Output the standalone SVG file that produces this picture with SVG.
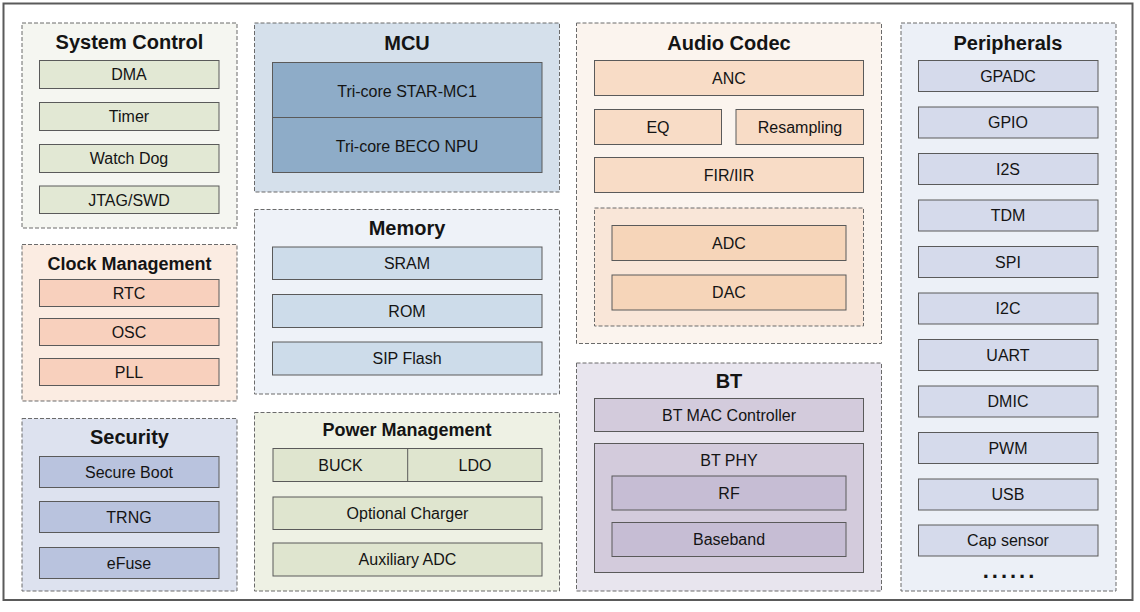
<svg xmlns="http://www.w3.org/2000/svg" width="1140" height="612" viewBox="0 0 1140 612">
<style>
text{font-family:"Liberation Sans",Arial,sans-serif;fill:#141414;text-anchor:middle}
.t{font-size:20px;font-weight:bold}
.t2{font-size:18px;font-weight:bold}
.l{font-size:16px}
.g{stroke:#6b6b6b;stroke-width:1;stroke-dasharray:4 2}
.b{stroke:#5a5a5a;stroke-width:1}
</style>
<rect x="3.5" y="3.5" width="1129" height="596.5" fill="#ffffff" stroke="#5a5a5a" stroke-width="2"/>

<g id="system-control">
<rect class="g" x="22" y="23" width="215" height="205" fill="#f5f6f1"/>
<text class="t" x="129.5" y="48.5">System Control</text>
<rect class="b" x="39.5" y="60.5" width="179.5" height="28" fill="#e2e8d4"/>
<text class="l" x="129" y="80">DMA</text>
<rect class="b" x="39.5" y="102.5" width="179.5" height="28" fill="#e2e8d4"/>
<text class="l" x="129" y="122">Timer</text>
<rect class="b" x="39.5" y="144.5" width="179.5" height="28" fill="#e2e8d4"/>
<text class="l" x="129" y="164">Watch Dog</text>
<rect class="b" x="39.5" y="186" width="179.5" height="27.5" fill="#e2e8d4"/>
<text class="l" x="129" y="205.5">JTAG/SWD</text>
</g>

<g id="clock-management">
<rect class="g" x="22" y="244.5" width="215" height="156.5" fill="#fbece2"/>
<text class="t2" x="129.5" y="269.5">Clock Management</text>
<rect class="b" x="39.5" y="279.5" width="179.5" height="27" fill="#f8d0bd"/>
<text class="l" x="129" y="298.5">RTC</text>
<rect class="b" x="39.5" y="318.5" width="179.5" height="27" fill="#f8d0bd"/>
<text class="l" x="129" y="337.5">OSC</text>
<rect class="b" x="39.5" y="358.5" width="179.5" height="27" fill="#f8d0bd"/>
<text class="l" x="129" y="377.5">PLL</text>
</g>

<g id="security">
<rect class="g" x="22" y="418.5" width="215" height="172.5" fill="#dde2ef"/>
<text class="t" x="129.5" y="443.5">Security</text>
<rect class="b" x="39.5" y="456.5" width="179.5" height="31" fill="#b9c3de"/>
<text class="l" x="129" y="477.5">Secure Boot</text>
<rect class="b" x="39.5" y="501.5" width="179.5" height="31" fill="#b9c3de"/>
<text class="l" x="129" y="522.5">TRNG</text>
<rect class="b" x="39.5" y="547.5" width="179.5" height="31" fill="#b9c3de"/>
<text class="l" x="129" y="568.5">eFuse</text>
</g>

<g id="mcu">
<rect class="g" x="254.5" y="23" width="305" height="169" fill="#d5e0eb"/>
<text class="t" x="407" y="49.5">MCU</text>
<rect class="b" x="272.5" y="62.5" width="269.5" height="110" fill="#8eacc8"/>
<line class="b" x1="272.5" y1="117.5" x2="542" y2="117.5"/>
<text class="l" x="407" y="96.5">Tri-core STAR-MC1</text>
<text class="l" x="407" y="151.5">Tri-core BECO NPU</text>
</g>

<g id="memory">
<rect class="g" x="254.5" y="209.5" width="305" height="184.5" fill="#eef2f8"/>
<text class="t" x="407" y="235">Memory</text>
<rect class="b" x="272.5" y="247" width="269.5" height="32.5" fill="#cddcea"/>
<text class="l" x="407" y="269">SRAM</text>
<rect class="b" x="272.5" y="294.5" width="269.5" height="33" fill="#cddcea"/>
<text class="l" x="407" y="316.5">ROM</text>
<rect class="b" x="272.5" y="342" width="269.5" height="33" fill="#cddcea"/>
<text class="l" x="407" y="364">SIP Flash</text>
</g>

<g id="power-management">
<rect class="g" x="254.5" y="412.5" width="305" height="178.5" fill="#eef1e4"/>
<text class="t2" x="407" y="435.5">Power Management</text>
<rect class="b" x="273" y="448.5" width="269" height="33" fill="#dfe5cf"/>
<line class="b" x1="407.7" y1="448.5" x2="407.7" y2="481.5"/>
<text class="l" x="340.5" y="470.5">BUCK</text>
<text class="l" x="475" y="470.5">LDO</text>
<rect class="b" x="273" y="497" width="269" height="32.5" fill="#dfe5cf"/>
<text class="l" x="407.5" y="519">Optional Charger</text>
<rect class="b" x="273" y="543" width="269" height="33" fill="#dfe5cf"/>
<text class="l" x="407.5" y="565">Auxiliary ADC</text>
</g>

<g id="audio-codec">
<rect class="g" x="576.5" y="23" width="305" height="320.5" fill="#fbf4ee"/>
<text class="t" x="729" y="49.5">Audio Codec</text>
<rect class="b" x="594.5" y="60.5" width="269" height="35" fill="#f8dcc6"/>
<text class="l" x="729" y="83.5">ANC</text>
<rect class="b" x="594.5" y="109.5" width="127" height="35" fill="#f8dcc6"/>
<text class="l" x="658" y="132.5">EQ</text>
<rect class="b" x="736" y="109.5" width="127.5" height="35" fill="#f8dcc6"/>
<text class="l" x="800" y="132.5">Resampling</text>
<rect class="b" x="594.5" y="157.5" width="269" height="35" fill="#f8dcc6"/>
<text class="l" x="729" y="180.5">FIR/IIR</text>
<g id="adc-dac">
<rect class="g" x="594.5" y="208" width="269" height="118" fill="#f9e6d8"/>
<rect class="b" x="612" y="225.5" width="234" height="35" fill="#f6d5b9"/>
<text class="l" x="729" y="248.5">ADC</text>
<rect class="b" x="612" y="275" width="234" height="35" fill="#f6d5b9"/>
<text class="l" x="729" y="298">DAC</text>
</g>
</g>

<g id="bt">
<rect class="g" x="576.5" y="363" width="305" height="228" fill="#e8e5ee"/>
<text class="t" x="729" y="388">BT</text>
<rect class="b" x="594.5" y="398.5" width="269" height="33" fill="#d3cbdc"/>
<text class="l" x="729" y="420.5">BT MAC Controller</text>
<g id="bt-phy">
<rect class="b" x="594.5" y="443.5" width="269" height="129" fill="#d3cbdc"/>
<text class="l" x="729" y="465.5">BT PHY</text>
<rect class="b" x="612" y="476" width="234" height="34" fill="#c6bdd4"/>
<text class="l" x="729" y="498.5">RF</text>
<rect class="b" x="612" y="522.5" width="234" height="34" fill="#c6bdd4"/>
<text class="l" x="729" y="545">Baseband</text>
</g>
</g>

<g id="peripherals">
<rect class="g" x="901" y="23" width="215" height="568" fill="#ecf0f7"/>
<text class="t" x="1008" y="49.5">Peripherals</text>
<g fill="#d5daeb">
<rect class="b" x="918.5" y="60.5" width="179.5" height="31"/>
<rect class="b" x="918.5" y="107" width="179.5" height="31"/>
<rect class="b" x="918.5" y="153.5" width="179.5" height="31"/>
<rect class="b" x="918.5" y="200" width="179.5" height="31"/>
<rect class="b" x="918.5" y="246.5" width="179.5" height="31"/>
<rect class="b" x="918.5" y="293" width="179.5" height="31"/>
<rect class="b" x="918.5" y="339.5" width="179.5" height="31"/>
<rect class="b" x="918.5" y="386" width="179.5" height="31"/>
<rect class="b" x="918.5" y="432.5" width="179.5" height="31"/>
<rect class="b" x="918.5" y="479" width="179.5" height="31"/>
<rect class="b" x="918.5" y="525" width="179.5" height="31"/>
</g>
<text class="l" x="1008" y="81.5">GPADC</text>
<text class="l" x="1008" y="128">GPIO</text>
<text class="l" x="1008" y="174.5">I2S</text>
<text class="l" x="1008" y="221">TDM</text>
<text class="l" x="1008" y="267.5">SPI</text>
<text class="l" x="1008" y="314">I2C</text>
<text class="l" x="1008" y="360.5">UART</text>
<text class="l" x="1008" y="407">DMIC</text>
<text class="l" x="1008" y="453.5">PWM</text>
<text class="l" x="1008" y="500">USB</text>
<text class="l" x="1008" y="546">Cap sensor</text>
<text x="1010" y="578" style="font-size:22px;font-weight:bold;letter-spacing:3px">......</text>
</g>
</svg>
